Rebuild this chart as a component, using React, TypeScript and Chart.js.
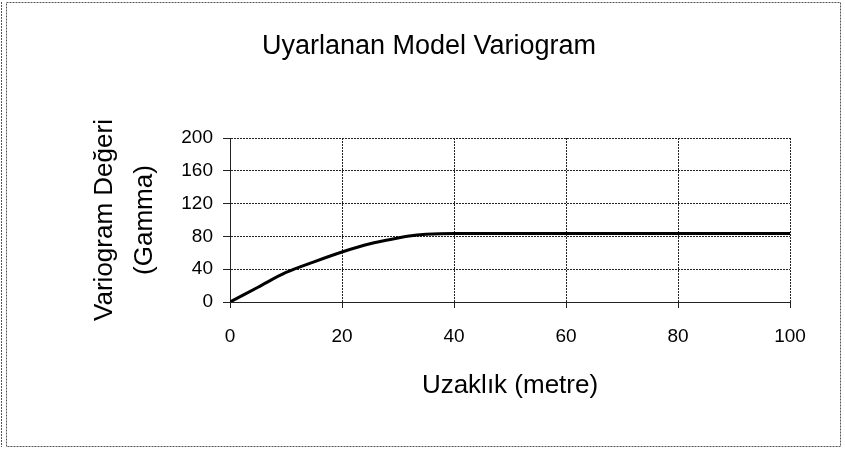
import React, { useEffect, useRef } from "react";
import { Chart, registerables } from "chart.js";

Chart.register(...registerables);

const distances = [0, 5, 10, 15, 20, 25, 30, 32, 35, 40, 50, 60, 70, 80, 90, 100];
const gamma = [0, 18, 36, 49, 61, 71, 78, 80.5, 82.5, 83.5, 83.5, 83.5, 83.5, 83.5, 83.5, 83.5];
const chartTitle = "Uyarlanan Model Variogram";
const xTitle = "Uzaklık (metre)";
const yTitle = ["Variogram Değeri", "(Gamma)"];

const FONT = "'Liberation Sans', Arial, sans-serif";

const framePlugin = {
  id: "frame",
  beforeDraw(chart: any) {
    const { ctx, width, height } = chart;
    ctx.save();
    ctx.fillStyle = "#ffffff";
    ctx.fillRect(0, 0, width, height);
    ctx.restore();
  },
  afterDraw(chart: any) {
    const { ctx } = chart;
    ctx.save();
    ctx.strokeStyle = "#555";
    ctx.lineWidth = 1;
    ctx.setLineDash([2, 1]);
    ctx.strokeRect(6.5, 2.5, 834, 444);
    ctx.beginPath();
    ctx.moveTo(1.5, 2);
    ctx.lineTo(1.5, 447);
    ctx.stroke();
    ctx.restore();
  },
};

export default function App() {
  const ref = useRef<HTMLCanvasElement>(null);
  useEffect(() => {
    if (!ref.current) return;
    const chart = new Chart(ref.current, {
      type: "line",
      data: {
        datasets: [
          {
            data: distances.map((d, i) => ({ x: d, y: gamma[i] })),
            borderColor: "#000",
            borderWidth: 3,
            pointRadius: 0,
            cubicInterpolationMode: "monotone",
            fill: false,
          },
        ],
      },
      options: {
        responsive: false,
        animation: false,
        layout: { padding: { left: 68, right: 55, top: 0, bottom: 0 } },
        plugins: {
          legend: { display: false },
          tooltip: { enabled: false },
          title: {
            display: true,
            text: chartTitle,
            color: "#000",
            font: { family: FONT, size: 27, weight: "normal", lineHeight: 1.2 },
            padding: { top: 30.8, bottom: 74.8 },
          },
        },
        scales: {
          x: {
            type: "linear",
            min: 0,
            max: 100,
            ticks: {
              stepSize: 20,
              color: "#000",
              padding: 17,
              font: { family: FONT, size: 19 },
            },
            grid: { color: "#222", lineWidth: 1, tickLength: 6, drawTicks: true, tickColor: "#222" },
            border: { color: "#222", dash: [2, 1] },
            title: {
              display: true,
              text: xTitle,
              color: "#000",
              font: { family: FONT, size: 26, lineHeight: 1.2 },
              padding: { top: 0, bottom: 47.4 },
            },
            afterFit(scale: any) {
              scale.height = 147;
            },
          },
          y: {
            type: "linear",
            min: 0,
            max: 200,
            ticks: {
              stepSize: 40,
              color: "#000",
              padding: 10,
              font: { family: FONT, size: 19 },
            },
            grid: { color: "#222", lineWidth: 1, tickLength: 7, drawTicks: true, tickColor: "#222" },
            border: { color: "#222", dash: [2, 1] },
            title: {
              display: true,
              text: yTitle,
              color: "#000",
              font: { family: FONT, size: 26, lineHeight: 40 / 26 },
              padding: { top: 17, bottom: 0 },
            },
            afterFit(scale: any) {
              scale.width = 162;
            },
          },
        },
      },
      plugins: [framePlugin],
    } as any);
    return () => chart.destroy();
  }, []);
  return (
    <div style={{ position: "absolute", left: 0, top: 0, width: 845, height: 449 }}>
      <canvas ref={ref} width={845} height={449} style={{ display: "block" }} />
    </div>
  );
}
